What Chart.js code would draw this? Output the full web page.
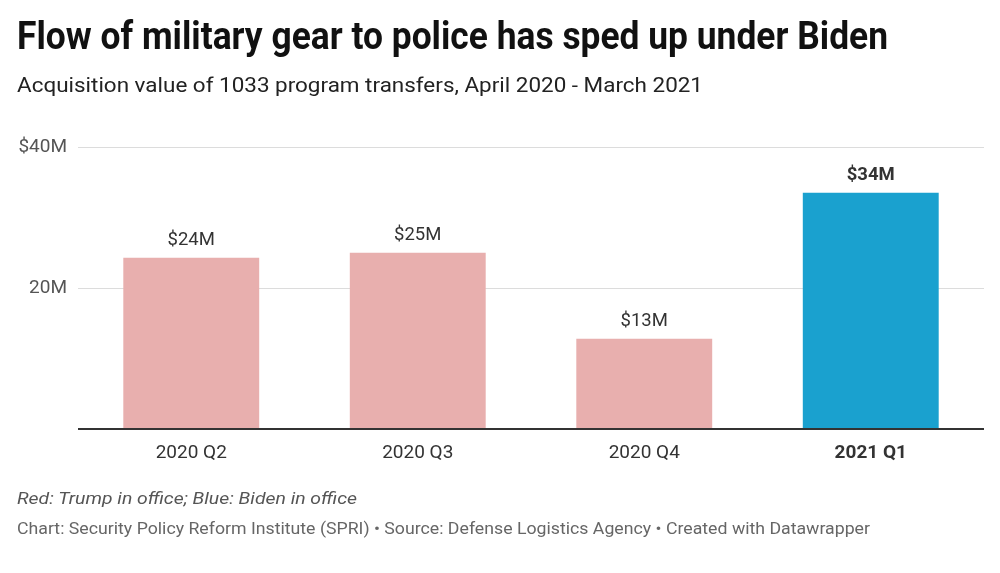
<!DOCTYPE html>
<html><head><meta charset="utf-8">
<script src="https://cdn.jsdelivr.net/npm/chart.js@4"></script>
<style>
html,body{margin:0;padding:0;background:#fff;width:1000px;height:573px;overflow:hidden;font-family:Roboto,"Noto Sans",sans-serif;}
#wrap{position:relative;width:1000px;height:573px;}
canvas{position:absolute;left:0;top:0;}
.t{position:absolute;white-space:nowrap;transform-origin:0 0;}
#title{left:17px;top:14px;font-size:38px;font-weight:700;color:#111;}
#sub{left:17px;top:73px;font-size:21px;color:#222;}
#note{left:17px;top:488px;font-size:17px;font-style:italic;color:#555;}
#src{left:17px;top:519px;font-size:16px;color:#666;}
</style></head>
<body><div id="wrap">
<canvas id="c" width="1000" height="573"></canvas>
<div class="t" id="title">Flow of military gear to police has sped up under Biden</div>
<div class="t" id="sub">Acquisition value of 1033 program transfers, April 2020 - March 2021</div>
<div class="t" id="note">Red: Trump in office; Blue: Biden in office</div>
<div class="t" id="src">Chart: Security Policy Reform Institute (SPRI) • Source: Defense Logistics Agency • Created with Datawrapper</div>
</div>
<script>
const categories = ["2020 Q2", "2020 Q3", "2020 Q4", "2021 Q1"];
const values = [24.3, 25.0, 12.8, 33.5];
const valueLabels = ["$24M", "$25M", "$13M", "$34M"];
const barColors = ["#e8afae", "#e8afae", "#e8afae", "#1aa1cf"];
const yTicks = {0: "", 20: "20M", 40: "$40M"};

function fit(id, w){
  const el = document.getElementById(id);
  const cw = el.getBoundingClientRect().width;
  el.style.transform = 'scaleX(' + (w / cw) + ')';
}
fit('title', 871);
fit('sub', 686);
fit('note', 340);
fit('src', 853);

const labelPlugin = {
  id: 'vlabels',
  afterDatasetsDraw(chart){
    const ctx = chart.ctx;
    const meta = chart.getDatasetMeta(0);
    ctx.save();
    ctx.textAlign = 'center';
    ctx.textBaseline = 'bottom';
    ctx.fillStyle = '#333';
    meta.data.forEach((bar, i) => {
      ctx.font = (i === 3 ? 'bold ' : '') + '18.5px Roboto';
      ctx.fillText(valueLabels[i], bar.x, bar.y - 8);
    });
    ctx.restore();
  }
};

new Chart(document.getElementById('c'), {
  type: 'bar',
  data: {
    labels: categories,
    datasets: [{ data: values, backgroundColor: barColors, categoryPercentage: 1, barPercentage: 0.6 }]
  },
  options: {
    responsive: false,
    animation: false,
    layout: { padding: { top: 147, right: 16, left: 0, bottom: 0 } },
    plugins: { legend: { display: false }, tooltip: { enabled: false } },
    scales: {
      x: {
        grid: { display: false },
        border: { display: false },
        ticks: {
          color: '#333',
          padding: 5,
          font: ctx => ({ family: 'Roboto', size: 19, weight: ctx.index === 3 ? 'bold' : 'normal' })
        },
        afterFit: s => { s.height = 144; }
      },
      y: {
        min: 0, max: 40,
        border: { display: false },
        grid: {
          drawTicks: false,
          color: ctx => ctx.tick && ctx.tick.value === 0 ? '#333' : '#dcdcdc',
          lineWidth: ctx => ctx.tick && ctx.tick.value === 0 ? 2 : 1
        },
        ticks: {
          stepSize: 20,
          padding: 11,
          color: '#555',
          font: { family: 'Roboto', size: 19 },
          callback: v => yTicks[v] !== undefined ? yTicks[v] : ''
        },
        afterFit: s => { s.width = 78; }
      }
    }
  },
  plugins: [labelPlugin]
});
</script>
</body></html>
